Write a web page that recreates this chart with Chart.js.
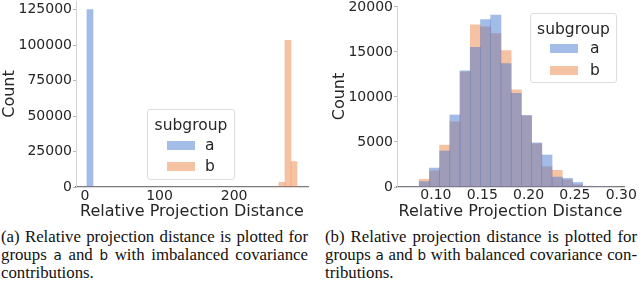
<!DOCTYPE html>
<html>
<head>
<meta charset="utf-8">
<script src="https://cdn.jsdelivr.net/npm/chart.js@4.4.1/dist/chart.umd.min.js"></script>
<style>
body{margin:0;background:#fff;width:640px;height:287px;position:relative;overflow:hidden;font-family:"DejaVu Sans";color:#262626}
canvas{position:absolute;top:0}
.leg{position:absolute;box-sizing:border-box;border:1px solid #dedede;border-radius:3px;background:rgba(255,255,255,0.8);font-size:15.5px}
.leg div{position:absolute;line-height:18px}
.leg .t{left:0;right:0;text-align:center}
.leg .p{width:28px;height:9px}
.cap{position:absolute;font-family:"Liberation Serif";font-size:16.8px;line-height:18.3px;text-align:justify;text-align-last:justify;color:#111}
.cap .s{font-family:"DejaVu Sans";font-size:13.5px}
</style>
</head>
<body>
<canvas id="left" width="318" height="222" style="left:0"></canvas>
<canvas id="right" width="320" height="222" style="left:320px"></canvas>

<div class="leg" style="left:147px;top:109px;width:88px;height:71px">
  <div class="t" style="top:6px">subgroup</div>
  <div class="p" style="left:19px;top:31px;background:#a4bce8"></div><div style="left:57px;top:26px">a</div>
  <div class="p" style="left:19px;top:52px;background:#f6c2a4"></div><div style="left:57px;top:47px">b</div>
</div>
<div class="leg" style="left:530px;top:13px;width:87px;height:70px">
  <div class="t" style="top:6px">subgroup</div>
  <div class="p" style="left:19px;top:30px;background:#a4bce8"></div><div style="left:59px;top:25px">a</div>
  <div class="p" style="left:19px;top:52px;background:#f6c2a4"></div><div style="left:59px;top:47px">b</div>
</div>

<div class="cap" style="left:1px;top:227.5px;width:307px">(a) Relative projection distance is plotted for<br>groups <span class="s">a</span> and <span class="s">b</span> with imbalanced covariance<br>contributions.</div>
<div class="cap" style="left:325px;top:227.5px;width:312px">(b) Relative projection distance is plotted for<br>groups <span class="s">a</span> and <span class="s">b</span> with balanced covariance con-<br>tributions.</div>

<script>
// (a) imbalanced: bin centers and counts
const leftCenters = [6.75, 264.05, 272.15, 280.25];
const leftA = [125000, 0, 0, 0];
const leftB = [0, 3300, 103300, 17900];
const leftXTicks = [0, 100, 200];
const leftYTicks = [0, 25000, 50000, 75000, 100000, 125000];

// (b) balanced
const rightCenters = [0.07642, 0.08745, 0.09848, 0.10951, 0.12054, 0.13157, 0.14260, 0.15363, 0.16466, 0.17569,
  0.18672, 0.19775, 0.20878, 0.21981, 0.23084, 0.24187, 0.25290, 0.26393, 0.27496, 0.28599];
const rightA = [30, 600, 2100, 4000, 8000, 12900, 15500, 18600, 19100, 13700,
  10400, 7950, 4900, 3550, 1100, 950, 500, 90, 40, 15];
const rightB = [40, 850, 1800, 4650, 7250, 12800, 18000, 17800, 17050, 15150,
  10800, 7900, 4800, 2250, 1850, 800, 250, 80, 30, 10];
const rightXTicks = [0.10, 0.15, 0.20, 0.25, 0.30];
const rightYTicks = [0, 5000, 10000, 15000, 20000];

const txt = '#262626';

function hist(id, centers, a, b, xr, yMax, xTicks, yTicks, fmt, box) {
  const pts = vals => centers.map((x, i) => ({x: x, y: vals[i]}));
  const bar = {xAxisID: 'xb', grouped: false, barPercentage: 1, categoryPercentage: 1, borderWidth: 0};
  return new Chart(document.getElementById(id), {
    type: 'bar',
    data: {
      datasets: [
        Object.assign({label: 'a', data: pts(a), backgroundColor: 'rgba(72,120,208,0.5)'}, bar),
        Object.assign({label: 'b', data: pts(b), backgroundColor: 'rgba(238,133,74,0.5)'}, bar)
      ]
    },
    options: {
      responsive: false,
      animation: false,
      layout: {padding: {top: box.top, right: box.right, left: 0, bottom: 0}},
      plugins: {legend: {display: false}, tooltip: {enabled: false}},
      scales: {
        // bars sit on a hidden axis without ticks so the bar width is the bin width
        xb: {
          type: 'linear', axis: 'x', position: 'bottom', display: false, offset: false,
          min: xr[0], max: xr[1],
          afterBuildTicks: s => { s.ticks = []; }
        },
        x: {
          type: 'linear', position: 'bottom', offset: false, min: xr[0], max: xr[1],
          afterBuildTicks: s => { s.ticks = xTicks.map(v => ({value: v})); },
          afterFit: s => { s.height = 35; s.paddingLeft = 0; s.paddingRight = 0; },
          grid: {display: false, drawTicks: false, offset: false},
          border: {color: '#7a7a7a', width: 1.3},
          ticks: {color: txt, font: {family: 'DejaVu Sans', size: 14}, padding: box.xpad, maxRotation: 0, callback: fmt},
          title: {display: true, text: 'Relative Projection Distance', color: txt,
            font: {family: 'DejaVu Sans', size: 16}, padding: {top: 0, bottom: 0.4}}
        },
        y: {
          min: 0, max: yMax,
          afterBuildTicks: s => { s.ticks = yTicks.map(v => ({value: v})); },
          afterFit: s => { s.width = box.left; s.paddingTop = 0; s.paddingBottom = 0; },
          grid: {drawOnChartArea: false, tickLength: 3, color: '#b5b5b5'},
          border: {color: '#d2d2d2', width: 1},
          ticks: {color: txt, font: {family: 'DejaVu Sans', size: 14}, padding: 1, callback: v => String(v)},
          title: {display: true, text: 'Count', color: txt,
            font: {family: 'DejaVu Sans', size: 16}, padding: {top: box.ypad, bottom: 0}}
        }
      }
    }
  });
}

hist('left', leftCenters, leftA, leftB, [-12, 299], 131000, leftXTicks, leftYTicks,
  v => String(v), {top: 1, right: 10, left: 76, xpad: 1, ypad: 0});
hist('right', rightCenters, rightA, rightB, [0.058, 0.303], 20100, rightXTicks, rightYTicks,
  v => v.toFixed(2), {top: 6, right: 16, left: 77, xpad: 0, ypad: 10.4});
</script>
</body>
</html>
